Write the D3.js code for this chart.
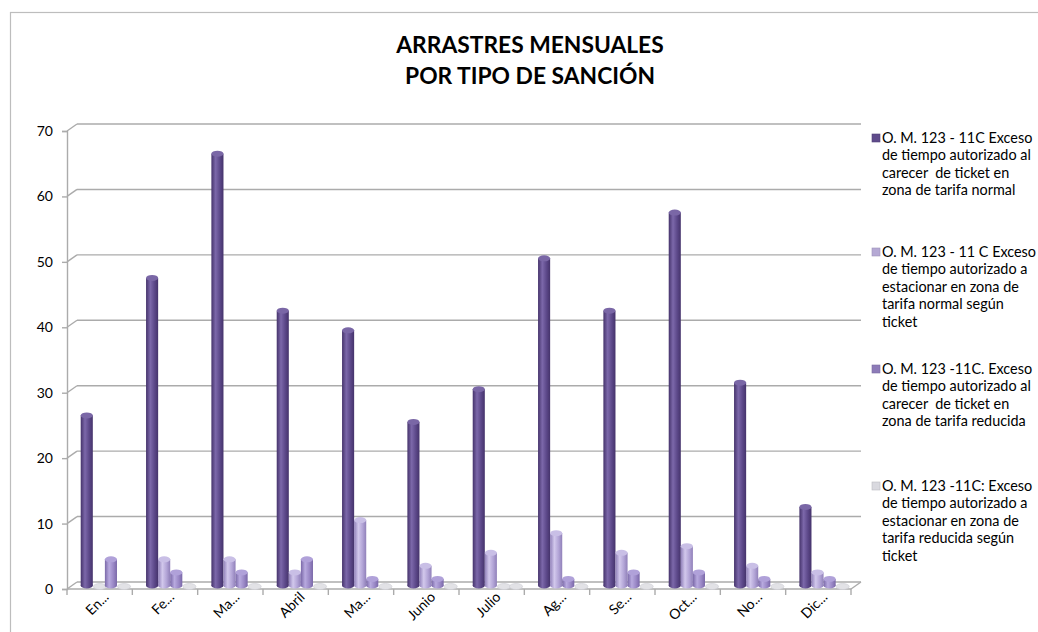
<!DOCTYPE html>
<html><head><meta charset="utf-8">
<script src="https://cdn.jsdelivr.net/npm/d3@7"></script>
<style>body{margin:0;background:#fff}svg{display:block}text{font-family:Lato,"Open Sans",sans-serif;fill:#000}</style>
</head><body><svg id="c" width="1038" height="632"></svg>
<script>
const months = ["En...","Fe...","Ma...","Abril","Ma...","Junio","Julio","Ag...","Se...","Oct...","No...","Dic..."];
const seriesNames = ["s1","s2","s3","s4"];
const legendLines = [
  ["O. M. 123 - 11C Exceso","de tiempo autorizado al","carecer  de ticket en","zona de tarifa normal"],
  ["O. M. 123 - 11 C Exceso","de tiempo autorizado a","estacionar en zona de","tarifa normal según","ticket"],
  ["O. M. 123 -11C. Exceso","de tiempo autorizado al","carecer  de ticket en","zona de tarifa reducida"],
  ["O. M. 123 -11C: Exceso","de tiempo autorizado a","estacionar en zona de","tarifa reducida según","ticket"]
];
const s1 = [26,47,66,42,39,25,30,50,42,57,31,12];
const s2 = [0,4,4,2,10,3,5,8,5,6,3,2];
const s3 = [4,2,2,4,1,1,0,1,2,2,1,1];
const s4 = [0,0,0,0,0,0,0,0,0,0,0,0];
const yTicks = [0,10,20,30,40,50,60,70];
const titleLines = ["ARRASTRES MENSUALES","POR TIPO DE SANCIÓN"];

const allSeries = [s1,s2,s3,s4];
const colors = [
  {edge:"#45336b", mid:"#5c4889", hi:"#7c68aa", cap:"#7a67a6", leg:"#5f4b8b"},
  {edge:"#9080b9", mid:"#b2a4d6", hi:"#d2c8ec", cap:"#c9bfe6", leg:"#b5a9d4"},
  {edge:"#7a68a8", mid:"#9a88c6", hi:"#b8aadf", cap:"#b0a1d9", leg:"#8d7bb8"},
  {edge:"#c8c8d2", mid:"#dcdce4", hi:"#eeeef2", cap:"#e6e6ec", leg:"#d9d9df"}
];

const svg = d3.select("#c");
const defs = svg.append("defs");
colors.forEach((c,i)=>{
  const g = defs.append("linearGradient").attr("id","g"+i).attr("x1","0").attr("x2","1").attr("y1","0").attr("y2","0");
  g.append("stop").attr("offset","0%").attr("stop-color",c.edge);
  g.append("stop").attr("offset","35%").attr("stop-color",c.hi);
  g.append("stop").attr("offset","70%").attr("stop-color",c.mid);
  g.append("stop").attr("offset","100%").attr("stop-color",c.edge);
});

// outer frame
svg.append("rect").attr("x",10.5).attr("y",12.5).attr("width",1100).attr("height",700)
  .attr("fill","none").attr("stroke","#bdbdbd").attr("stroke-width",1.2);

const x0 = 67, x1 = 851, dx = 10, dy = -7;
const y = d3.scaleLinear().domain([0,70]).range([589,131]);
const x = d3.scaleBand().domain(d3.range(months.length)).range([x0,x1]);
const bw = x.bandwidth();
const xs = d3.scaleBand().domain(seriesNames).range([bw*0.21, bw*0.95]);
const barW = xs.bandwidth();
const gridCol = "#ababab";

// back wall gridlines
svg.append("g").selectAll("line").data(yTicks).join("line")
  .attr("x1",x0+dx).attr("x2",x1+dx).attr("y1",d=>y(d)+dy).attr("y2",d=>y(d)+dy)
  .attr("stroke",gridCol).attr("stroke-width",1.4);
// left wall diagonals
svg.append("g").selectAll("line").data(yTicks).join("line")
  .attr("x1",x0).attr("x2",x0+dx).attr("y1",d=>y(d)).attr("y2",d=>y(d)+dy)
  .attr("stroke",gridCol).attr("stroke-width",1.4);
// y axis
const yAxis = d3.axisLeft(y).tickValues(yTicks).tickSize(5).tickPadding(9);
const ya = svg.append("g").attr("transform",`translate(${x0},0)`).call(yAxis);
ya.select(".domain").attr("stroke",gridCol).attr("stroke-width",1.4);
ya.selectAll(".tick line").attr("stroke",gridCol).attr("stroke-width",1.4);
ya.selectAll("text").attr("font-size",14).attr("font-family","Lato").attr("fill","#000");

// floor
svg.append("line").attr("x1",x0).attr("x2",x1).attr("y1",y(0)).attr("y2",y(0)).attr("stroke",gridCol).attr("stroke-width",1.4);
svg.append("line").attr("x1",x1).attr("x2",x1+dx).attr("y1",y(0)).attr("y2",y(0)+dy).attr("stroke",gridCol).attr("stroke-width",1.4);
// category ticks
svg.append("g").selectAll("line").data(d3.range(months.length+1)).join("line")
  .attr("x1",d=>x0+d*bw).attr("x2",d=>x0+d*bw).attr("y1",y(0)).attr("y2",y(0)+6)
  .attr("stroke",gridCol).attr("stroke-width",1.4);

// bars
const baseY = y(0) + dy/2;
const ry = 3;
const barsG = svg.append("g");
allSeries.forEach((vals,si)=>{
  const data = vals.map((v,i)=>({i,v}));
  const g = barsG.append("g");
  data.forEach(d=>{
    const bx = x(d.i) + xs(seriesNames[si]);
    const cx = bx + barW/2;
    const topY = baseY - (y(0)-y(d.v));
    if (d.v <= 0) {
      g.append("ellipse").attr("cx",cx+1).attr("cy",baseY+1).attr("rx",barW/2+0.5).attr("ry",ry)
        .attr("fill","#e2e2e6").attr("stroke","#cfcfd6").attr("stroke-width",0.7);
      return;
    }
    g.append("ellipse").attr("cx",cx).attr("cy",baseY).attr("rx",barW/2).attr("ry",ry).attr("fill","url(#g"+si+")");
    g.append("rect").attr("x",bx).attr("y",topY).attr("width",barW).attr("height",baseY-topY).attr("fill","url(#g"+si+")");
    g.append("ellipse").attr("cx",cx).attr("cy",topY).attr("rx",barW/2).attr("ry",ry).attr("fill",colors[si].cap);
  });
});

// x labels
svg.append("g").selectAll("text").data(months).join("text")
  .attr("transform",(d,i)=>`translate(${x(i)+bw/2+10},${598}) rotate(-45)`)
  .attr("text-anchor","end").attr("font-size",14).text(d=>d);

// title
svg.append("g").selectAll("text").data(titleLines).join("text")
  .attr("x",530).attr("y",(d,i)=>53+i*31).attr("text-anchor","middle")
  .attr("font-size",22.8).attr("font-weight","bold").text(d=>d);

// legend
const legStarts = [138,252,369,486];
const lineH = 17.4;
const lg = svg.append("g");
legendLines.forEach((lines,i)=>{
  const g = lg.append("g").attr("transform",`translate(0,${legStarts[i]})`);
  g.append("rect").attr("x",872).attr("y",-4).attr("width",8).attr("height",8)
    .attr("fill",colors[i].leg).attr("stroke",d3.color(colors[i].leg).darker(0.4)).attr("stroke-width",0.6);
  g.selectAll("text").data(lines).join("text")
    .attr("x",882).attr("y",(d,j)=>j*lineH+5).attr("font-size",14.4).attr("xml:space","preserve")
    .style("white-space","pre").text(d=>d);
});
</script></body></html>
